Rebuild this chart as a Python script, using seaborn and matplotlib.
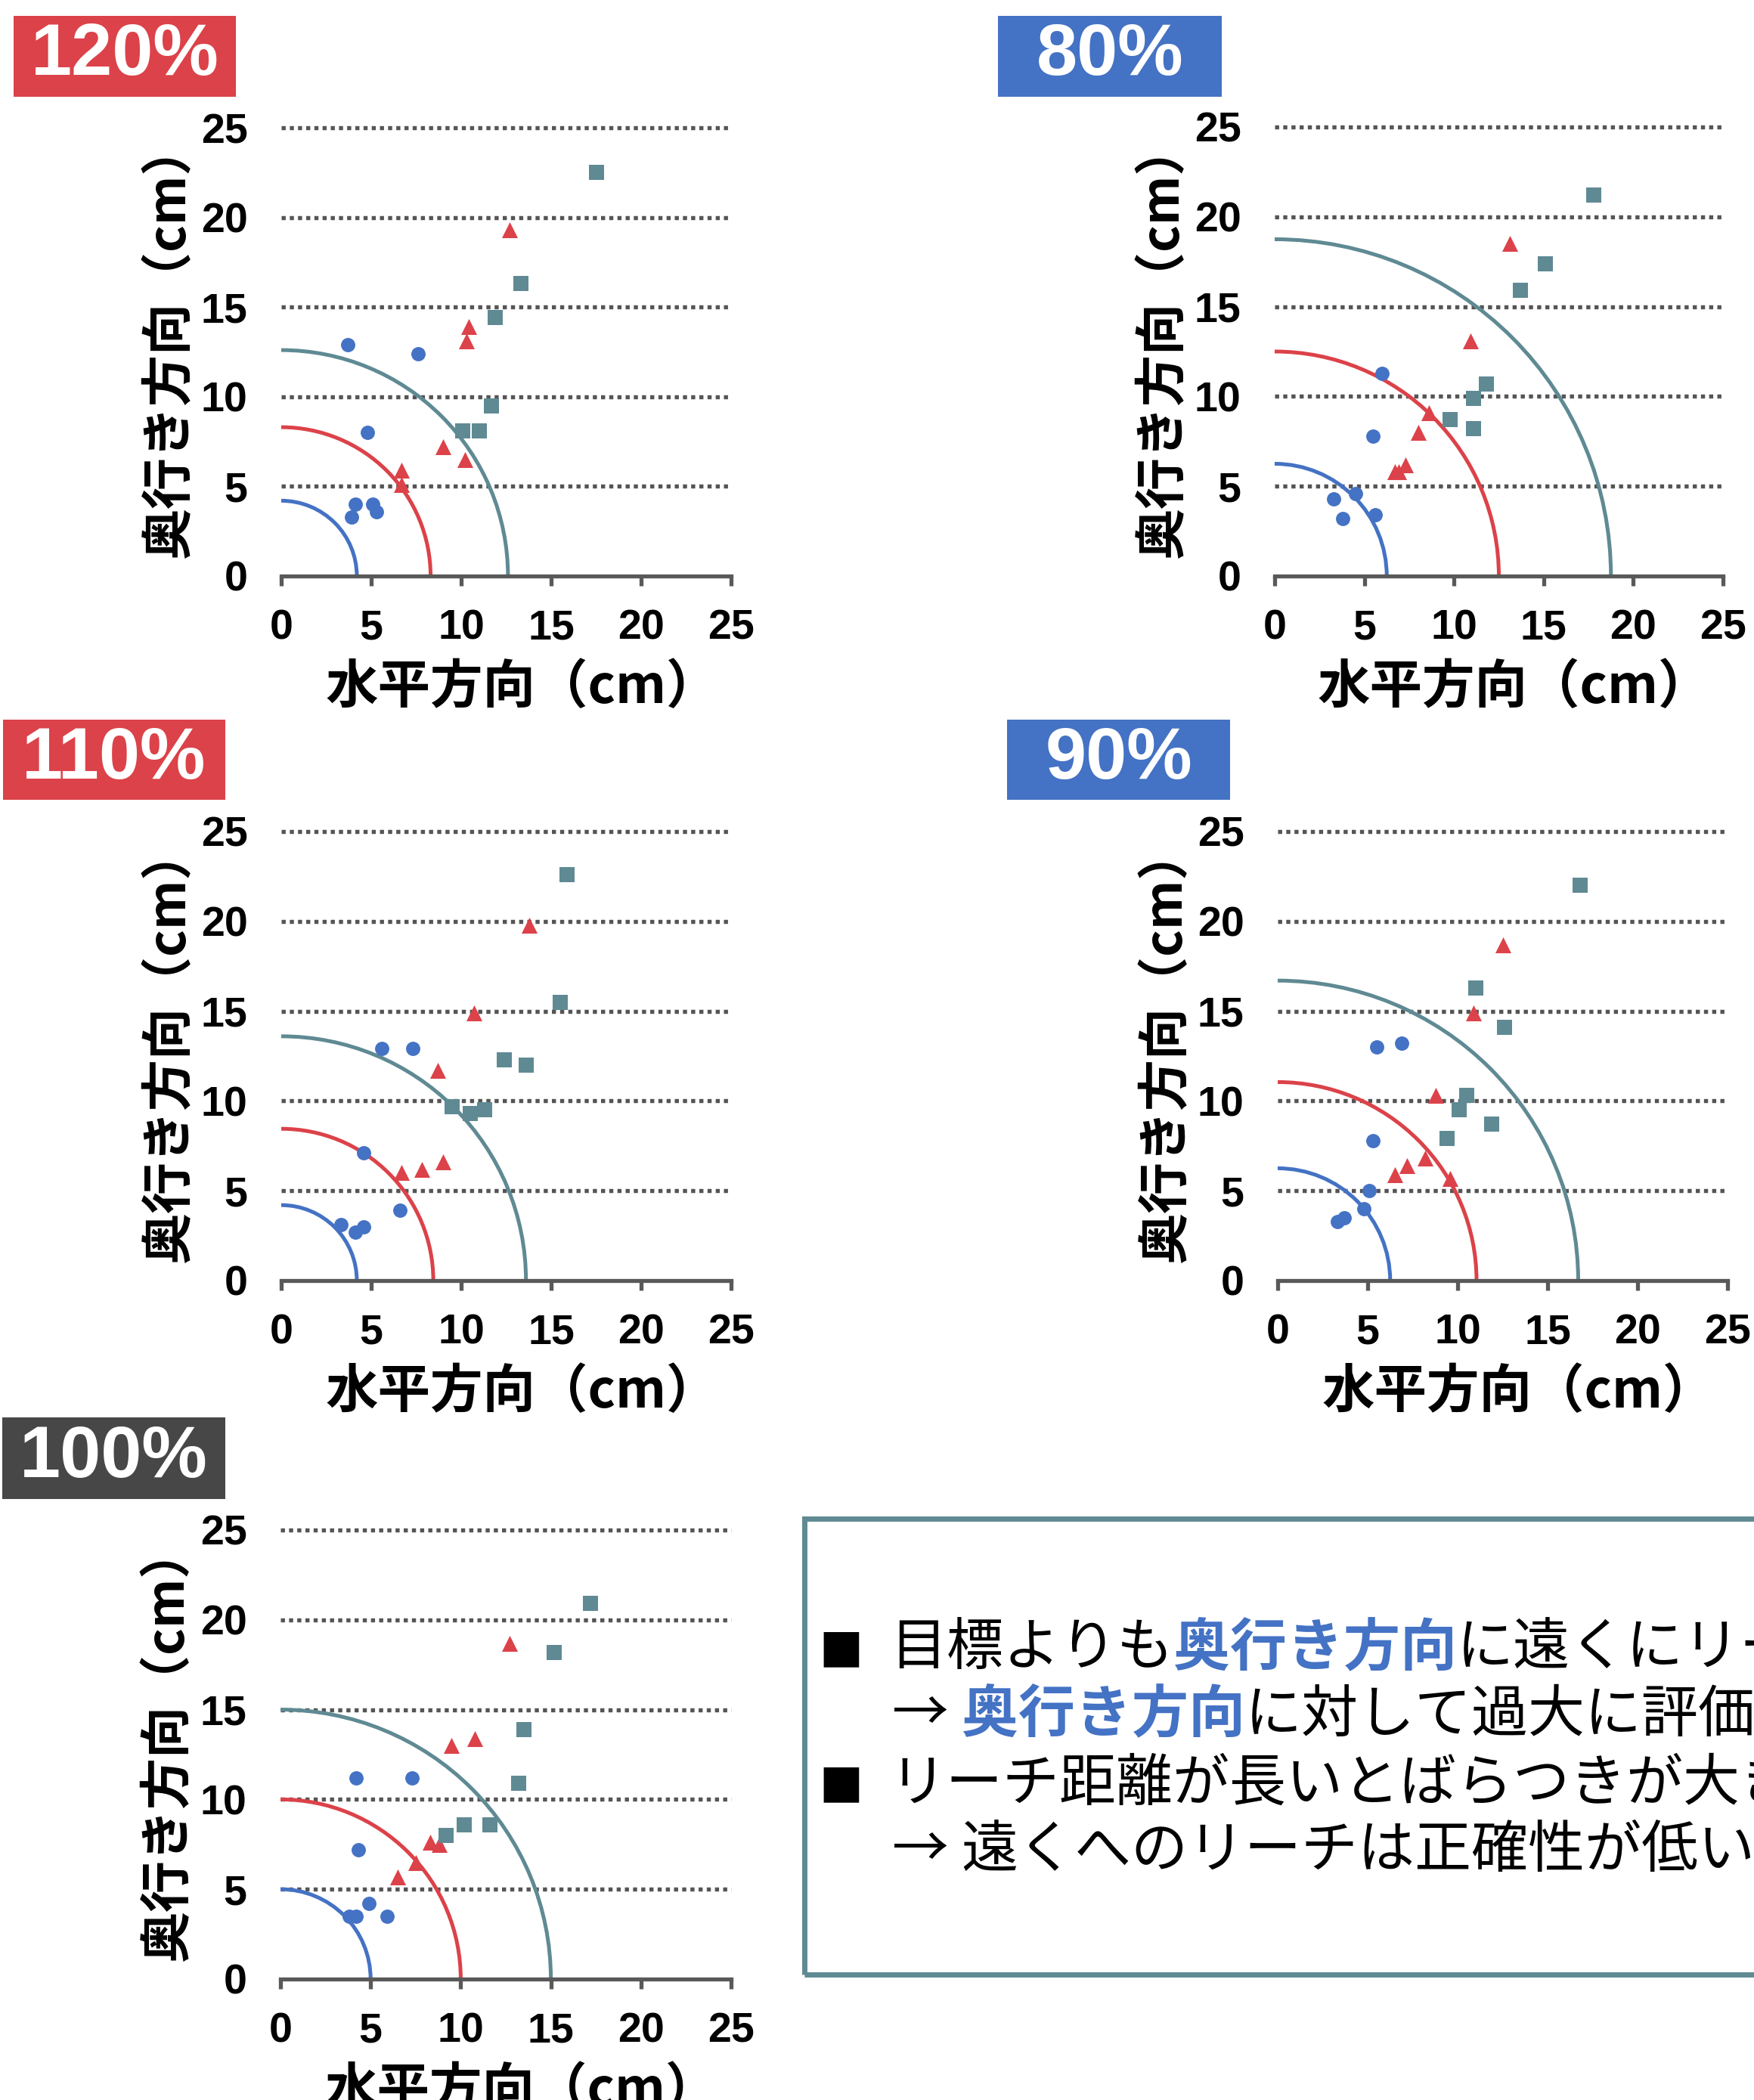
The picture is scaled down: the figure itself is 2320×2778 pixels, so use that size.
import matplotlib
matplotlib.use('Agg')
import matplotlib.pyplot as plt
from matplotlib.patches import Arc, Rectangle
import seaborn as sns

sns.set_theme(style='white')
plt.rcParams['font.family'] = ['Liberation Sans', 'Noto Sans CJK JP']

# ---- data (cm) ----
ticks = [0, 5, 10, 15, 20, 25]

# 120%
c120_x = [3.7, 7.6, 4.8, 4.1, 5.1, 5.3, 3.9]
c120_y = [12.9, 12.4, 8.0, 4.0, 4.0, 3.6, 3.3]
t120_x = [12.7, 10.4, 10.3, 9.0, 10.2, 6.7, 6.7]
t120_y = [19.3, 13.9, 13.1, 7.2, 6.5, 5.9, 5.1]
s120_x = [17.5, 13.3, 11.9, 11.7, 11.0, 10.1]
s120_y = [22.5, 16.3, 14.4, 9.5, 8.1, 8.1]
arc120 = [4.2, 8.3, 12.6]

# 80%
c80_x = [6.0, 5.5, 4.5, 3.3, 5.6, 3.8]
c80_y = [11.3, 7.8, 4.6, 4.3, 3.4, 3.2]
t80_x = [13.1, 10.9, 8.6, 8.0, 7.3, 6.9, 6.7]
t80_y = [18.5, 13.1, 9.1, 8.0, 6.2, 5.8, 5.8]
s80_x = [17.8, 15.1, 13.7, 11.8, 11.1, 9.8, 11.1]
s80_y = [21.2, 17.4, 15.9, 10.7, 9.9, 8.7, 8.2]
arc80 = [6.25, 12.5, 18.75]

# 110%
c110_x = [5.6, 7.3, 4.6, 6.6, 3.3, 4.6, 4.1]
c110_y = [12.9, 12.9, 7.1, 3.9, 3.1, 3.0, 2.7]
t110_x = [13.8, 10.7, 8.7, 9.0, 7.8, 6.7]
t110_y = [19.8, 14.9, 11.7, 6.6, 6.2, 6.0]
s110_x = [15.9, 15.5, 12.4, 13.6, 9.5, 10.5, 11.3]
s110_y = [22.6, 15.5, 12.3, 12.0, 9.7, 9.3, 9.5]
arc110 = [4.2, 8.45, 13.6]

# 90%
c90_x = [6.9, 5.5, 5.3, 5.1, 4.8, 3.7, 3.3]
c90_y = [13.2, 13.0, 7.8, 5.0, 4.0, 3.5, 3.3]
t90_x = [12.5, 10.9, 8.8, 9.6, 8.2, 7.2, 6.5]
t90_y = [18.7, 14.9, 10.3, 5.7, 6.8, 6.4, 5.9]
s90_x = [16.8, 11.0, 12.6, 10.5, 10.1, 11.9, 9.4]
s90_y = [22.0, 16.3, 14.1, 10.3, 9.5, 8.7, 7.9]
arc90 = [6.25, 11.05, 16.7]

# 100%
c100_x = [4.2, 7.3, 4.3, 4.9, 5.9, 4.2, 3.8]
c100_y = [11.2, 11.2, 7.2, 4.2, 3.5, 3.5, 3.5]
t100_x = [12.7, 10.8, 9.5, 8.3, 8.8, 7.5, 6.5]
t100_y = [18.7, 13.4, 13.0, 7.6, 7.5, 6.5, 5.7]
s100_x = [17.2, 15.2, 13.5, 13.2, 11.6, 10.2, 9.2]
s100_y = [20.9, 18.2, 13.9, 10.9, 8.6, 8.6, 8.0]
arc100 = [5, 10, 15]

BLUE = '#4472C4'
RED = '#DC4249'
TEAL = '#5F8A93'
GRAY = '#595959'
DARK = '#474747'

W, H = 2320, 2778
fig = plt.figure(figsize=(W / 100, H / 100), dpi=100)


def px_rect(x0, y0, x1, y1):
    return [x0 / W, 1 - y1 / H, (x1 - x0) / W, (y1 - y0) / H]


def draw_panel(axbox, labbox, label, labcolor, cx, cy, tx, ty, sx, sy, radii):
    ax = fig.add_axes(px_rect(*axbox))
    for r, c in zip(radii, [BLUE, RED, TEAL]):
        ax.add_patch(Arc((0, 0), 2 * r, 2 * r, theta1=0, theta2=90,
                         color=c, lw=3.6, zorder=2))
    sns.scatterplot(x=cx, y=cy, color=BLUE, marker='o', s=185,
                    linewidth=0, ax=ax, zorder=3)
    sns.scatterplot(x=tx, y=ty, color=RED, marker='^', s=230,
                    linewidth=0, ax=ax, zorder=3)
    sns.scatterplot(x=sx, y=sy, color=TEAL, marker='s', s=215,
                    linewidth=0, ax=ax, zorder=3)
    ax.hlines(ticks[1:], 0, 25, colors='#555555', linestyles=(0, (1, 1)),
              lw=3.9, clip_on=False, zorder=1)
    ax.set_xlim(0, 25)
    ax.set_ylim(0, 25)
    ax.set_xticks(ticks)
    ax.set_yticks(ticks)
    for side in ['top', 'right', 'left']:
        ax.spines[side].set_visible(False)
    ax.spines['bottom'].set_color(GRAY)
    ax.spines['bottom'].set_linewidth(3.8)
    ax.spines['bottom'].set_zorder(4)
    ax.tick_params(axis='x', bottom=True, length=9, width=3.8, color=GRAY,
                   pad=22, labelsize=40, direction='out')
    ax.tick_params(axis='y', left=False, length=0, pad=32, labelsize=40)
    for lbl in ax.get_xticklabels() + ax.get_yticklabels():
        lbl.set_fontweight('bold')
        lbl.set_color('black')
    ax.set_xlabel('水平方向（cm）', fontsize=50, fontweight='bold',
                  family='Noto Sans CJK JP', color='black')
    ax.xaxis.set_label_coords(0.535, -0.19)
    ax.set_ylabel('奥行き方向（cm）', fontsize=49, fontweight='bold',
                  family='Noto Sans CJK JP', color='black')
    ax.yaxis.set_label_coords(-0.19, 0.525)

    # percent tag
    x0, y0, x1, y1 = labbox
    fig.patches.append(Rectangle((x0 / W, 1 - y1 / H), (x1 - x0) / W, (y1 - y0) / H,
                                 transform=fig.transFigure, fc=labcolor, ec='none'))
    fig.text((x0 + x1) / 2 / W, 1 - (y0 + y1) / 2 / H, label, color='white',
             fontsize=70, fontweight='bold', ha='center', va='center',
             family='Liberation Sans')
    return ax


draw_panel((372, 169, 967, 762), (18, 21, 312, 128), '120%', RED,
           c120_x, c120_y, t120_x, t120_y, s120_x, s120_y, arc120)
draw_panel((1686, 168, 2279, 762), (1320, 21, 1616, 128), '80%', BLUE,
           c80_x, c80_y, t80_x, t80_y, s80_x, s80_y, arc80)
draw_panel((372, 1100, 967, 1694), (4, 952, 298, 1058), '110%', RED,
           c110_x, c110_y, t110_x, t110_y, s110_x, s110_y, arc110)
draw_panel((1690, 1100, 2285, 1694), (1332, 952, 1627, 1058), '90%', BLUE,
           c90_x, c90_y, t90_x, t90_y, s90_x, s90_y, arc90)
draw_panel((371, 2024, 967, 2618), (3, 1875, 298, 1983), '100%', DARK,
           c100_x, c100_y, t100_x, t100_y, s100_x, s100_y, arc100)

# ---- summary box ----
fig.patches.append(Rectangle((1064 / W, 1 - 2612 / H), (2500 - 1064) / W, (2612 - 2009) / H,
                             transform=fig.transFigure, fc='none', ec=TEAL, lw=5))

renderer = fig.canvas.get_renderer()
FS = 54


def draw_line(x_px, y_px, segments):
    x = x_px / W
    for txt, color, weight in segments:
        t = fig.text(x, 1 - y_px / H, txt, color=color, fontweight=weight,
                     fontsize=FS, ha='left', va='center', family='Noto Sans CJK JP')
        bb = t.get_window_extent(renderer)
        x = bb.x1 / W


for y_px in [2181, 2360]:
    fig.text(1112 / W, 1 - y_px / H, '■', fontsize=44, ha='center', va='center',
             color='black', family='DejaVu Sans')

draw_line(1177, 2181, [('目標よりも', 'black', 'normal'),
                       ('奥行き方向', BLUE, 'bold'),
                       ('に遠くにリーチ', 'black', 'normal')])
draw_line(1180, 2269, [('→ ', 'black', 'normal'),
                       ('奥行き方向', BLUE, 'bold'),
                       ('に対して過大に評価', 'black', 'normal')])
draw_line(1177, 2360, [('リーチ距離が長いとばらつきが大きい', 'black', 'normal')])
draw_line(1180, 2449, [('→ ', 'black', 'normal'),
                       ('遠くへのリーチは正確性が低い', 'black', 'normal')])

fig.savefig('out.png', dpi=100)
